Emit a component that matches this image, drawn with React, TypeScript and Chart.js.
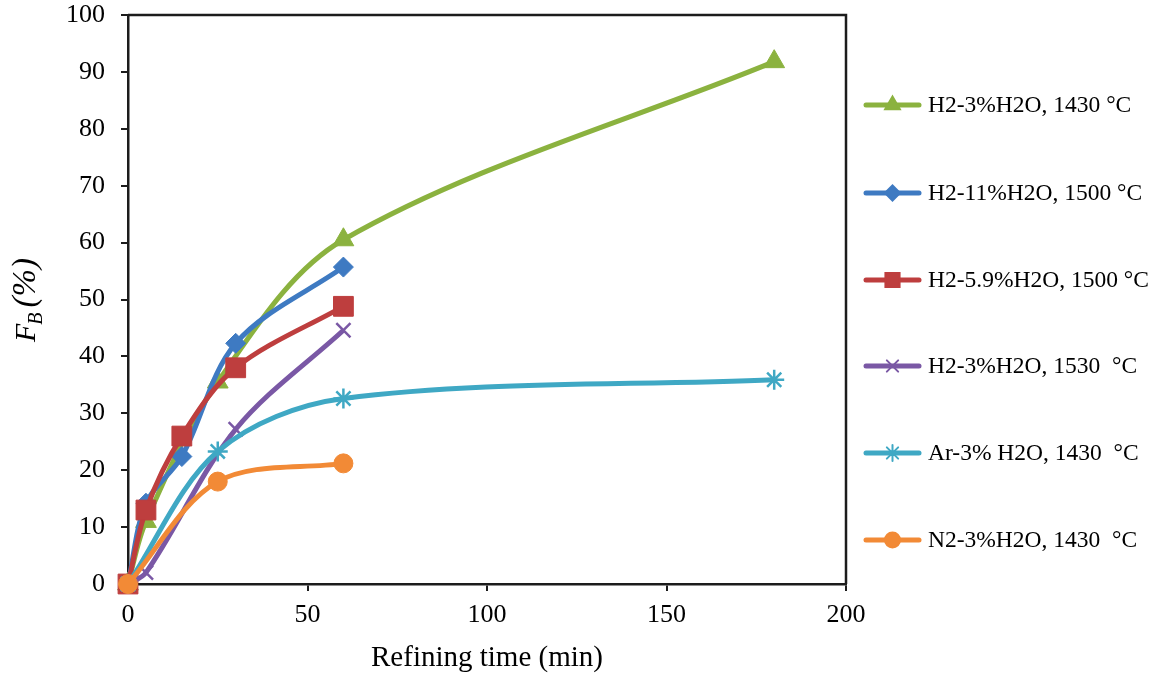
import React, { useEffect, useRef } from 'react';
import { Chart, registerables } from 'chart.js';
import { drawPoint } from 'chart.js/helpers';

Chart.register(...registerables);

// ---- data ----
const seriesLabels = [
  'H2-3%H2O, 1430 °C',
  'H2-11%H2O, 1500 °C',
  'H2-5.9%H2O, 1500 °C',
  'H2-3%H2O, 1530  °C',
  'Ar-3% H2O, 1430  °C',
  'N2-3%H2O, 1430  °C',
];

const h2_3_1430_x = [0, 5, 25, 60, 180];
const h2_3_1430_y = [0, 11, 35.5, 60.5, 91.8];

const h2_11_1500_x = [0, 5, 15, 30, 60];
const h2_11_1500_y = [0, 14.2, 22.4, 42.3, 55.7];

const h2_59_1500_x = [0, 5, 15, 30, 60];
const h2_59_1500_y = [0, 13, 26, 38, 48.8];

const h2_3_1530_x = [0, 5, 30, 60];
const h2_3_1530_y = [0, 2, 27.2, 44.6];

const ar_3_1430_x = [0, 25, 60, 180];
const ar_3_1430_y = [0, 23.3, 32.6, 35.9];

const n2_3_1430_x = [0, 25, 60];
const n2_3_1430_y = [0, 18, 21.2];

const xTickValues = [0, 50, 100, 150, 200];
const yTickValues = [0, 10, 20, 30, 40, 50, 60, 70, 80, 90, 100];

const xTitle = 'Refining time (min)';

// ---- styles ----
const colors = ['#8BB23F', '#3E7AC2', '#BE3E3E', '#7A58A5', '#3FA8C4', '#F28A36'];
const pointStyles = ['triangle', 'rectRot', 'rect', 'crossRot', 'star', 'circle'];
const pointRadii = [12, 10, 14, 10, 10, 9.5];
const legendRadii = [8.5, 7.5, 10, 8, 8, 7.5];
const legendY = [105, 193, 280, 366, 453, 540];

const toPts = (xs: number[], ys: number[]) => xs.map((x, i) => ({ x, y: ys[i] }));

const seriesData = [
  toPts(h2_3_1430_x, h2_3_1430_y),
  toPts(h2_11_1500_x, h2_11_1500_y),
  toPts(h2_59_1500_x, h2_59_1500_y),
  toPts(h2_3_1530_x, h2_3_1530_y),
  toPts(ar_3_1430_x, ar_3_1430_y),
  toPts(n2_3_1430_x, n2_3_1430_y),
];

const AXIS_COLOR = '#1c1c1c';
const SERIF = '"Liberation Serif", "Times New Roman", serif';

const framePlugin = {
  id: 'frame',
  beforeDatasetsDraw(chart: any) {
    const { ctx, chartArea } = chart;
    ctx.save();
    ctx.strokeStyle = AXIS_COLOR;
    ctx.lineWidth = 2.5;
    ctx.beginPath();
    ctx.moveTo(chartArea.left, chartArea.top);
    ctx.lineTo(chartArea.right, chartArea.top);
    ctx.lineTo(chartArea.right, chartArea.bottom);
    ctx.stroke();
    ctx.restore();
  },
};

const yTitlePlugin = {
  id: 'yTitle',
  afterDraw(chart: any) {
    const ctx = chart.ctx;
    ctx.save();
    ctx.translate(35, 342);
    ctx.rotate(-Math.PI / 2);
    ctx.fillStyle = '#000';
    ctx.textBaseline = 'alphabetic';
    ctx.textAlign = 'left';
    let x = 0;
    ctx.font = `italic 30px ${SERIF}`;
    ctx.fillText('F', x, 0);
    x += ctx.measureText('F').width - 1;
    ctx.font = `italic 20px ${SERIF}`;
    ctx.fillText('B', x, 7);
    x += ctx.measureText('B').width + 5;
    ctx.font = `italic 33px ${SERIF}`;
    ctx.fillText('(%)', x, 0);
    ctx.restore();
  },
};

const legendPlugin = {
  id: 'customLegend',
  afterDraw(chart: any) {
    const ctx = chart.ctx;
    ctx.save();
    seriesLabels.forEach((label, i) => {
      const y = legendY[i];
      ctx.strokeStyle = colors[i];
      ctx.lineWidth = 5;
      ctx.lineCap = 'round';
      ctx.beginPath();
      ctx.moveTo(866, y);
      ctx.lineTo(919, y);
      ctx.stroke();
      ctx.fillStyle = colors[i];
      ctx.strokeStyle = colors[i];
      ctx.lineWidth = 2;
      drawPoint(ctx, { pointStyle: pointStyles[i] as any, radius: legendRadii[i], rotation: 0, borderWidth: 2 }, 892.5, y);
      ctx.fillStyle = '#000';
      ctx.font = `23.5px ${SERIF}`;
      ctx.textBaseline = 'middle';
      ctx.textAlign = 'left';
      ctx.fillText(label, 928, y + 1);
    });
    ctx.restore();
  },
};

export default function App() {
  const ref = useRef<HTMLCanvasElement | null>(null);

  useEffect(() => {
    if (!ref.current) return;
    const chart = new Chart(ref.current, {
      type: 'line',
      data: {
        datasets: seriesData.map((pts, i) => ({
          label: seriesLabels[i],
          data: pts,
          borderColor: colors[i],
          backgroundColor: colors[i],
          pointBackgroundColor: colors[i],
          pointBorderColor: colors[i],
          pointBorderWidth: i === 3 || i === 4 ? 2.5 : 1,
          pointStyle: pointStyles[i] as any,
          pointRadius: pointRadii[i],
          borderWidth: 5,
          tension: 0.33,
          fill: false,
          clip: false as any,
          order: 5 - i,
        })),
      },
      options: {
        animation: false,
        responsive: false,
        devicePixelRatio: 1,
        layout: { padding: { top: 14, right: 320, left: 0, bottom: 0 } },
        plugins: {
          legend: { display: false },
          tooltip: { enabled: false },
          title: { display: false },
        },
        scales: {
          x: {
            type: 'linear',
            min: 0,
            max: 200,
            afterBuildTicks: (scale: any) => {
              scale.ticks = xTickValues.map((v) => ({ value: v }));
            },
            afterFit: (scale: any) => {
              scale.height = 98;
              scale.paddingLeft = 0;
              scale.paddingRight = 0;
            },
            ticks: {
              color: '#000',
              font: { family: SERIF, size: 26 },
              padding: 9,
              maxRotation: 0,
            },
            grid: {
              drawOnChartArea: false,
              drawTicks: true,
              tickLength: 7,
              color: AXIS_COLOR,
              lineWidth: 2,
            },
            border: { display: true, color: AXIS_COLOR, width: 2.5 },
            title: {
              display: true,
              text: xTitle,
              color: '#000',
              font: { family: SERIF, size: 29 },
              padding: { top: 0, bottom: 6 },
            },
          },
          y: {
            type: 'linear',
            min: 0,
            max: 100,
            afterBuildTicks: (scale: any) => {
              scale.ticks = yTickValues.map((v) => ({ value: v }));
            },
            afterFit: (scale: any) => {
              scale.width = 128;
              scale.paddingTop = 0;
              scale.paddingBottom = 0;
            },
            ticks: {
              color: '#000',
              font: { family: SERIF, size: 26 },
              padding: 16,
            },
            grid: {
              drawOnChartArea: false,
              drawTicks: true,
              tickLength: 7,
              color: AXIS_COLOR,
              lineWidth: 2,
            },
            border: { display: true, color: AXIS_COLOR, width: 2.5 },
          },
        },
      },
      plugins: [framePlugin, yTitlePlugin, legendPlugin],
    });
    return () => chart.destroy();
  }, []);

  return (
    <div style={{ position: 'absolute', left: 0, top: 0, width: 1166, height: 682, background: '#fff' }}>
      <canvas ref={ref} width={1166} height={682} style={{ width: 1166, height: 682, display: 'block' }} />
    </div>
  );
}
